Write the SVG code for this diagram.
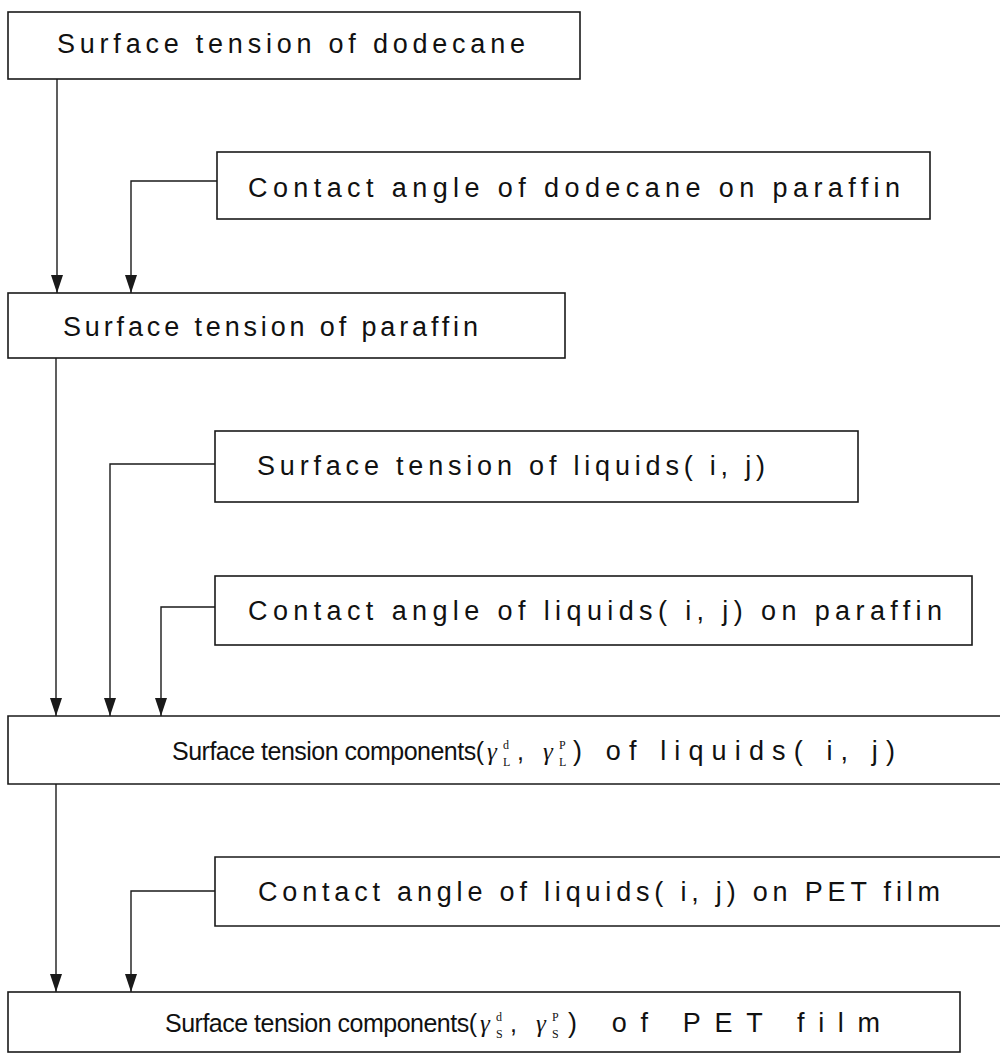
<svg xmlns="http://www.w3.org/2000/svg" width="1000" height="1057" viewBox="0 0 1000 1057">
<style>
.box{fill:#fff;stroke:#1a1a1a;stroke-width:1.6}
.lbl{font-family:"Liberation Sans",Arial,sans-serif;font-size:27px;fill:#111}
.sm{font-size:25px}
.g{font-family:"Liberation Serif","DejaVu Serif",serif;font-style:italic;font-size:25px;fill:#111}
.s{font-family:"Liberation Serif","DejaVu Serif",serif;font-size:12px;fill:#111}
.c{fill:none;stroke:#1a1a1a;stroke-width:1.4}
</style>
<defs>
<marker id="ah" viewBox="0 0 18 12" refX="18" refY="6" markerWidth="18" markerHeight="12" markerUnits="userSpaceOnUse" orient="auto">
<path d="M0,0 L18,6 L0,12 Z" fill="#1a1a1a"/>
</marker>
</defs>
<rect width="1000" height="1057" fill="#fff"/>
<g id="connectors">
<path class="c" d="M57,79 V293" marker-end="url(#ah)"/>
<path class="c" d="M217,181 H131 V293" marker-end="url(#ah)"/>
<path class="c" d="M56,358 V716" marker-end="url(#ah)"/>
<path class="c" d="M215,464 H110 V716" marker-end="url(#ah)"/>
<path class="c" d="M215,607 H161 V716" marker-end="url(#ah)"/>
<path class="c" d="M56,784 V992" marker-end="url(#ah)"/>
<path class="c" d="M215,891 H131 V992" marker-end="url(#ah)"/>
</g>
<g id="n1"><rect class="box" x="8" y="12" width="572" height="67"/><text class="lbl" x="57" y="53" textLength="468" lengthAdjust="spacing">Surface tension of dodecane</text></g>
<g id="n2"><rect class="box" x="217" y="152" width="713" height="67"/><text class="lbl" x="248" y="197" textLength="652" lengthAdjust="spacing">Contact angle of dodecane on paraffin</text></g>
<g id="n3"><rect class="box" x="8" y="293" width="557" height="65"/><text class="lbl" x="63" y="336" textLength="415" lengthAdjust="spacing">Surface tension of paraffin</text></g>
<g id="n4"><rect class="box" x="215" y="431" width="643" height="71"/><text class="lbl" x="257" y="475" textLength="508" lengthAdjust="spacing">Surface tension of liquids( i, j)</text></g>
<g id="n5"><rect class="box" x="215" y="576" width="757" height="69"/><text class="lbl" x="248" y="620" textLength="694" lengthAdjust="spacing">Contact angle of liquids( i, j) on paraffin</text></g>
<g id="n6"><path class="box" d="M1001,716 H8 V784 H1001"/>
<text class="lbl sm" x="172" y="760" textLength="312" lengthAdjust="spacing">Surface tension components(</text>
<text class="g" x="487" y="760">γ</text><text class="s" x="503" y="749">d</text><text class="s" x="503" y="766">L</text>
<text class="lbl sm" x="517" y="760">,</text>
<text class="g" x="543" y="760">γ</text><text class="s" x="559" y="749">P</text><text class="s" x="559" y="766">L</text>
<text class="lbl" x="573" y="760" textLength="322" lengthAdjust="spacing">) of liquids( i, j)</text></g>
<g id="n7"><path class="box" d="M1001,857 H215 V926 H1001"/><text class="lbl" x="258" y="901" textLength="682" lengthAdjust="spacing">Contact angle of liquids( i, j) on PET film</text></g>
<g id="n8"><rect class="box" x="8" y="992" width="952" height="60"/>
<text class="lbl sm" x="165" y="1032" textLength="312" lengthAdjust="spacing">Surface tension components(</text>
<text class="g" x="480" y="1032">γ</text><text class="s" x="496" y="1021">d</text><text class="s" x="496" y="1038">S</text>
<text class="lbl sm" x="510" y="1032">,</text>
<text class="g" x="536" y="1032">γ</text><text class="s" x="552" y="1021">P</text><text class="s" x="552" y="1038">S</text>
<text class="lbl" x="568" y="1032" textLength="312" lengthAdjust="spacing">)  of PET film</text></g>
</svg>
